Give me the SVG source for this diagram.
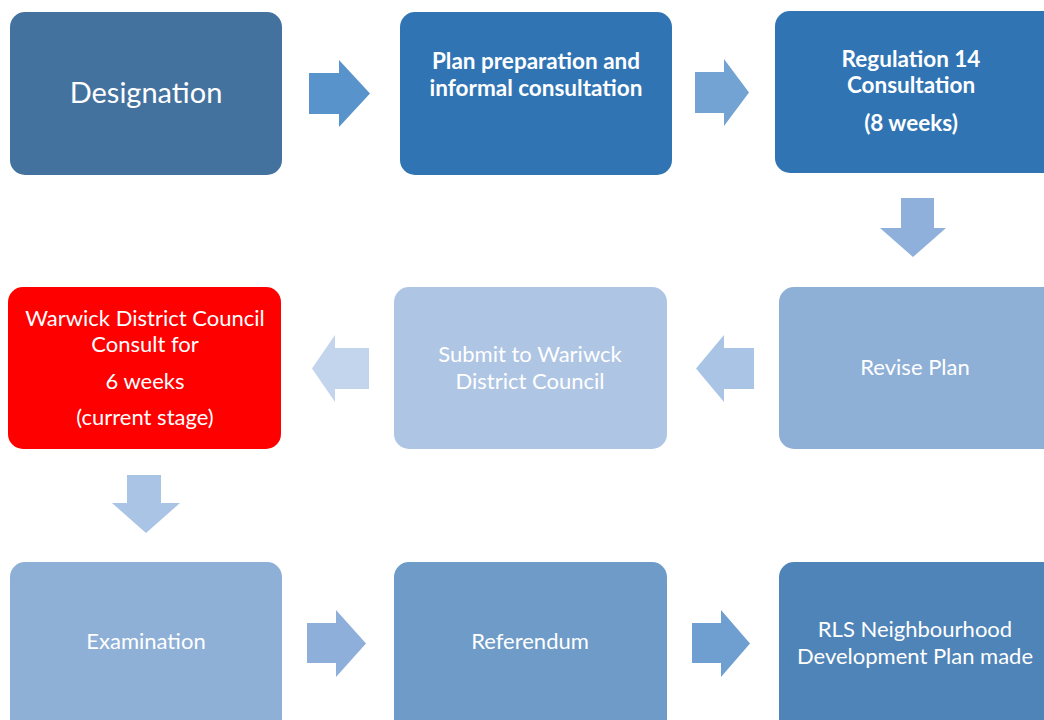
<svg xmlns="http://www.w3.org/2000/svg" width="1044" height="720" viewBox="0 0 1044 720">
  <style>
    .box { stroke: none; }
    .t { font-family: Lato, "Open Sans", "Liberation Sans", sans-serif; fill: #ffffff; text-anchor: middle; font-size: 22px; }
    .b { font-weight: bold; font-size: 22.5px; }
    .big { font-size: 29px; }
  </style>
  <rect width="1044" height="720" fill="#ffffff"/>

  <!-- Row 1 -->
  <g id="designation">
    <rect class="box" x="10" y="12" width="272" height="163" rx="15" fill="#44729e"/>
    <text class="t big" x="146" y="103">Designation</text>
  </g>
  <g id="plan-preparation">
    <rect class="box" x="400" y="12" width="272" height="163" rx="15" fill="#3074b4"/>
    <text class="t b" x="536" y="69">Plan preparation and</text>
    <text class="t b" x="536" y="96">informal consultation</text>
  </g>
  <g id="regulation-14">
    <rect class="box" x="775" y="11" width="285" height="162" rx="15" fill="#3074b4"/>
    <text class="t b" x="911" y="67">Regulation 14</text>
    <text class="t b" x="911" y="93">Consultation</text>
    <text class="t b" x="911" y="131">(8 weeks)</text>
  </g>

  <!-- Row 2 -->
  <g id="revise-plan">
    <rect class="box" x="779" y="287" width="280" height="162" rx="15" fill="#8eafd6"/>
    <text class="t" x="915" y="375">Revise Plan</text>
  </g>
  <g id="submit">
    <rect class="box" x="394" y="287" width="273" height="162" rx="15" fill="#afc5e4"/>
    <text class="t" x="530" y="362">Submit to Wariwck</text>
    <text class="t" x="530" y="389">District Council</text>
  </g>
  <g id="wdc-consult">
    <rect class="box" x="8" y="287" width="273" height="162" rx="15" fill="#ff0000"/>
    <text class="t" x="145" y="326">Warwick District Council</text>
    <text class="t" x="145" y="352">Consult for</text>
    <text class="t" x="145" y="389">6 weeks</text>
    <text class="t" x="145" y="425">(current stage)</text>
  </g>

  <!-- Row 3 -->
  <g id="examination">
    <rect class="box" x="10" y="562" width="272" height="180" rx="15" fill="#8eafd6"/>
    <text class="t" x="146" y="649">Examination</text>
  </g>
  <g id="referendum">
    <rect class="box" x="394" y="562" width="273" height="180" rx="15" fill="#6e9bc8"/>
    <text class="t" x="530" y="649">Referendum</text>
  </g>
  <g id="plan-made">
    <rect class="box" x="779" y="562" width="280" height="180" rx="15" fill="#4f84b8"/>
    <text class="t" x="915" y="637">RLS Neighbourhood</text>
    <text class="t" x="915" y="664">Development Plan made</text>
  </g>

  <!-- Block arrows between stages -->
  <g id="connectors">
    <polygon points="309,73 339,73 339,60 370,93.5 339,127 339,114 309,114" fill="#5894cb"/>
    <polygon points="695,72 724,72 724,59 749,92.5 724,126 724,113 695,113" fill="#72a3d3"/>
    <polygon points="901,198 934,198 934,228 946,228 913,257 880,228 901,228" fill="#8eb0da"/>
    <polygon points="754,348 724,348 724,335 696,368.5 724,402 724,389 754,389" fill="#a9c4e5"/>
    <polygon points="369,348 335,348 335,335 312,368.5 335,402 335,389 369,389" fill="#c3d5ec"/>
    <polygon points="127,475 161,475 161,503 180,503 146,533 112,503 127,503" fill="#a9c4e5"/>
    <polygon points="307,623 336,623 336,610 366,643.5 336,677 336,663 307,663" fill="#8eafda"/>
    <polygon points="692,623 721,623 721,610 750,643.5 721,677 721,663 692,663" fill="#6e9fd0"/>
  </g>
</svg>
